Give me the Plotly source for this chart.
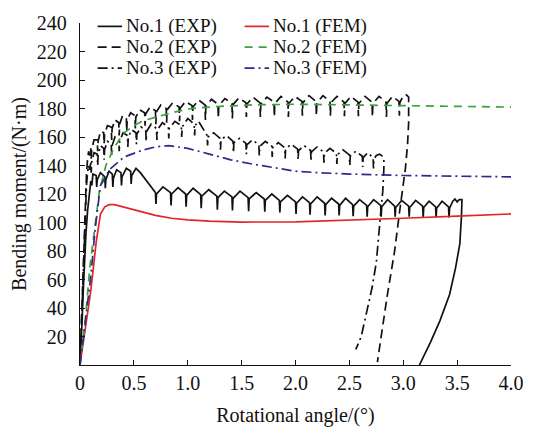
import plotly.graph_objects as go

# ---- Experimental curves (rotation in degrees, bending moment in N·m) ----
EXP1_X = [0, 0.01, 0.02, 0.03, 0.04, 0.055, 0.07, 0.085, 0.1, 0.11, 0.12,
          0.15, 0.155, 0.16, 0.19, 0.23, 0.235, 0.24, 0.27, 0.30, 0.305, 0.31, 0.34,
          0.38, 0.385, 0.39, 0.43, 0.47, 0.475, 0.48, 0.52, 0.56, 0.60, 0.65,
          0.70, 0.705, 0.71, 0.77, 0.84, 0.845, 0.85, 0.91, 0.98, 0.985, 0.99, 1.05,
          1.12, 1.125, 1.13, 1.195, 1.27, 1.275, 1.28, 1.34, 1.41, 1.415, 1.42, 1.485,
          1.56, 1.565, 1.57, 1.635, 1.71, 1.715, 1.72, 1.78, 1.85, 1.855, 1.86, 1.925,
          2.00, 2.005, 2.01, 2.065, 2.13, 2.135, 2.14, 2.20, 2.27, 2.275, 2.28, 2.335,
          2.40, 2.405, 2.41, 2.465, 2.53, 2.535, 2.54, 2.595, 2.66, 2.665, 2.67, 2.725,
          2.79, 2.795, 2.80, 2.855, 2.92, 2.925, 2.93, 2.985, 3.05, 3.055, 3.06, 3.115,
          3.18, 3.185, 3.19, 3.24, 3.30, 3.305, 3.31, 3.36, 3.42, 3.425, 3.43, 3.46,
          3.48, 3.50, 3.52, 3.545,
          3.54, 3.525, 3.485, 3.43, 3.34, 3.25, 3.15]
EXP1_Y = [0, 14, 32, 52, 70, 92, 108, 120, 129, 126, 134,
          133, 125, 130, 135, 132, 124, 130, 136, 134, 125, 131, 137,
          135, 126, 132, 138, 136, 127, 133, 138, 135, 131, 126,
          121, 113, 120, 125, 121, 112, 120, 124.5, 120, 111, 119, 124,
          119.5, 110, 118.5, 123, 118.5, 109, 117.5, 122, 118, 108.5, 117, 122,
          117.5, 108, 116.5, 121, 116.5, 107.5, 115.5, 120, 115.5, 107, 114.5, 119,
          114.5, 106, 113.5, 118, 114, 105.5, 113, 118, 113.5, 105, 112.5, 117,
          113, 105, 112, 117, 112.5, 104.5, 111.5, 116, 112, 104, 111, 116,
          112, 104, 111, 116, 111.5, 104, 110.5, 115.5, 111.5, 104, 110.5, 115.5,
          111.5, 103.5, 110.5, 115, 111, 103.5, 110, 115, 111, 103.5, 110, 115,
          116.5, 114.5, 116, 116,
          104, 85, 68, 49.5, 31, 15.6, 0]

EXP2_X = [0, 0.01, 0.02, 0.03, 0.04, 0.05, 0.06, 0.07, 0.08, 0.09,
          0.10, 0.104, 0.108, 0.13, 0.16, 0.164, 0.168, 0.19,
          0.22, 0.224, 0.228, 0.255, 0.29, 0.294, 0.298, 0.325,
          0.36, 0.364, 0.368, 0.395, 0.43, 0.434, 0.438, 0.47,
          0.51, 0.514, 0.518, 0.555, 0.60, 0.604, 0.608, 0.65,
          0.70, 0.704, 0.708, 0.75, 0.80, 0.804, 0.808, 0.86,
          0.92, 0.924, 0.928, 0.98, 1.04, 1.044, 1.048, 1.10,
          1.16, 1.164, 1.168, 1.22, 1.28, 1.284, 1.288, 1.345,
          1.41, 1.414, 1.418, 1.475, 1.54, 1.544, 1.548, 1.605,
          1.67, 1.674, 1.678, 1.735, 1.80, 1.804, 1.808, 1.865,
          1.93, 1.934, 1.938, 1.995, 2.06, 2.064, 2.068, 2.125,
          2.19, 2.194, 2.198, 2.255, 2.32, 2.324, 2.328, 2.385,
          2.45, 2.454, 2.458, 2.515, 2.58, 2.584, 2.588, 2.645,
          2.71, 2.714, 2.718, 2.775, 2.84, 2.844, 2.848, 2.90,
          2.96, 2.964, 2.968, 3.00, 3.03, 3.05,
          3.05, 3.04, 3.02, 2.97, 2.92, 2.85, 2.80, 2.76]
EXP2_Y = [0, 22, 48, 76, 100, 120, 134, 144, 150, 147,
          152, 144, 151, 158, 158, 150, 157, 164,
          163, 155, 162, 168, 167, 158, 166, 172,
          170, 161, 169, 175, 173, 164, 172, 177,
          175, 166, 174, 179, 177, 168, 176, 181,
          178.5, 169, 177.5, 182.5, 180, 170, 179, 184,
          181, 171, 180, 185, 182, 172, 181, 186,
          182.5, 172, 181.5, 186.5, 183, 173, 182, 187,
          183.5, 173, 182.5, 187.5, 184, 174, 183, 188,
          184, 174, 183, 188, 184.5, 174, 183.5, 188.5,
          184.5, 174, 183.5, 188.5, 185, 175, 184, 189,
          185, 175, 184, 189, 185, 175, 184, 188.5,
          184.5, 174.5, 183.5, 188.5, 184.5, 174.5, 183.5, 188.5,
          184.5, 174, 183.5, 188.5, 184.5, 174, 183.5, 188.5,
          185, 175, 184, 189, 189.5, 188,
          170, 155, 138, 110, 80, 48, 22, 2]

EXP3_X = [0, 0.01, 0.02, 0.03, 0.04, 0.05, 0.06, 0.07, 0.08, 0.09,
          0.10, 0.104, 0.108, 0.13, 0.16, 0.164, 0.168, 0.19,
          0.22, 0.224, 0.228, 0.255, 0.29, 0.294, 0.298, 0.325,
          0.36, 0.364, 0.368, 0.40, 0.44, 0.444, 0.448, 0.48,
          0.52, 0.524, 0.528, 0.565, 0.61, 0.614, 0.618, 0.66,
          0.71, 0.714, 0.718, 0.765, 0.82, 0.824, 0.828, 0.88,
          0.94, 0.944, 0.948, 1.00, 1.06, 1.064, 1.068, 1.10, 1.15,
          1.18, 1.184, 1.188, 1.24, 1.30, 1.304, 1.308, 1.36,
          1.42, 1.424, 1.428, 1.48, 1.54, 1.544, 1.548, 1.60,
          1.66, 1.664, 1.668, 1.72, 1.78, 1.784, 1.788, 1.84,
          1.90, 1.904, 1.908, 1.96, 2.02, 2.024, 2.028, 2.08,
          2.14, 2.144, 2.148, 2.20, 2.26, 2.264, 2.268, 2.32,
          2.38, 2.384, 2.388, 2.44, 2.50, 2.504, 2.508, 2.56,
          2.62, 2.624, 2.628, 2.67, 2.72, 2.724, 2.728, 2.75, 2.78, 2.80, 2.82,
          2.82, 2.81, 2.79, 2.77, 2.75, 2.71, 2.66, 2.61, 2.56]
EXP3_Y = [0, 20, 44, 68, 92, 112, 126, 135, 140, 137,
          143, 135, 142, 149, 148, 140, 147, 154,
          152, 144, 151, 157, 155, 147, 154, 160,
          158, 150, 157, 163, 161, 153, 160, 165,
          163, 155, 162, 167, 165, 157, 164, 169,
          166, 158, 165, 170, 167, 159, 166, 171,
          168, 160, 167, 173, 169, 161, 168, 171, 165,
          161, 154, 160, 163, 159, 151, 158, 161,
          157, 149, 156, 159, 155.5, 148, 154.5, 158,
          154.5, 147, 153.5, 157, 153.5, 146, 152.5, 156,
          152.5, 145, 151.5, 155, 151.5, 144, 150.5, 154,
          150.5, 143, 149.5, 153, 149.5, 142, 148.5, 152,
          148.5, 141, 147.5, 151, 147.5, 140, 146.5, 150,
          146.5, 139, 145.5, 149, 145.5, 138, 144.5, 147, 148, 147, 145,
          137.6, 122, 106, 90, 72, 54, 36, 20, 11]

# ---- Finite element results ----
FEM1_X = [0, 0.05, 0.1, 0.15, 0.19, 0.23, 0.27, 0.32, 0.4, 0.5, 0.6, 0.7,
          0.85, 1.0, 1.2, 1.5, 2.0, 2.5, 3.0, 3.5, 4.0]
FEM1_Y = [0, 26, 52, 86, 106, 111, 112.5, 112.5, 111, 109, 107, 105,
          103, 101.8, 101, 100.3, 100.5, 101.5, 103, 104.5, 106]

FEM2_X = [0, 0.05, 0.09, 0.14, 0.18, 0.24, 0.32, 0.41, 0.5, 0.59, 0.7, 0.85,
          1.03, 1.3, 1.6, 2.0, 2.5, 3.0, 3.5, 4.0]
FEM2_Y = [0, 32, 68, 99, 122, 140, 153, 163, 168, 171.5, 174, 177,
          180, 181.5, 182.5, 183, 182.5, 182, 181.5, 181]

FEM3_X = [0, 0.05, 0.1, 0.14, 0.19, 0.28, 0.41, 0.59, 0.7, 0.82, 1.0, 1.2,
          1.4, 1.6, 1.8, 2.0, 2.2, 2.5, 3.0, 3.5, 4.0]
FEM3_Y = [0, 30, 62, 95, 126, 137.6, 146, 151, 153, 154, 152, 148,
          144, 141, 138.5, 136, 135, 134, 133, 132.5, 132]

X_TICKS = [0, 0.5, 1.0, 1.5, 2.0, 2.5, 3.0, 3.5, 4.0]
X_TICK_TEXT = ["0", "0.5", "1.0", "1.5", "2.0", "2.5", "3.0", "3.5", "4.0"]
Y_TICKS = [20, 40, 60, 80, 100, 120, 140, 160, 180, 200, 220, 240]

FONT = "Liberation Serif, Times New Roman, serif"
BLACK = "#111111"
RED = "#e0262b"
GREEN = "#3aa33a"
NAVY = "#2b2b8c"
DASH = "9px,5px"
DASH_G = "8px,6px"
DASHDOT = "10px,4px,2px,4px"

# (name, x, y, colour, dash, legend column, legend row)
series = [
    ("No.1 (EXP)", EXP1_X, EXP1_Y, BLACK, "solid", 0, 0),
    ("No.2 (EXP)", EXP2_X, EXP2_Y, BLACK, DASH, 0, 1),
    ("No.3 (EXP)", EXP3_X, EXP3_Y, BLACK, DASHDOT, 0, 2),
    ("No.1 (FEM)", FEM1_X, FEM1_Y, RED, "solid", 1, 0),
    ("No.2 (FEM)", FEM2_X, FEM2_Y, GREEN, DASH_G, 1, 1),
    ("No.3 (FEM)", FEM3_X, FEM3_Y, NAVY, DASHDOT, 1, 2),
]

fig = go.Figure()
for name, xs, ys, col, dash, _, _ in series:
    fig.add_trace(go.Scatter(x=xs, y=ys, mode="lines", name=name,
                             line=dict(color=col, width=1.7, dash=dash),
                             showlegend=False))

# Legend drawn as line samples plus text labels, laid out in two columns
W_PLOT = 440.0
H_PLOT = 353.0
col_line = [(18, 43), (168, 193)]   # px from the left edge of the plot area
col_text = [46, 196]
row_y = [349.5, 328, 306.5]         # px above the bottom of the plot area
shapes = []
annotations = []
for name, xs, ys, col, dash, c, r in series:
    y = row_y[r] / H_PLOT
    shapes.append(dict(type="line", xref="paper", yref="paper",
                       x0=col_line[c][0] / W_PLOT, x1=col_line[c][1] / W_PLOT,
                       y0=y, y1=y, line=dict(color=col, width=1.7, dash=dash)))
    annotations.append(dict(text=name, xref="paper", yref="paper",
                            x=col_text[c] / W_PLOT, y=y, xanchor="left",
                            yanchor="middle", showarrow=False, borderpad=0,
                            font=dict(family=FONT, size=19, color=BLACK)))

fig.update_layout(
    width=536, height=434,
    margin=dict(l=80, r=16, t=19, b=62),
    paper_bgcolor="white", plot_bgcolor="white",
    font=dict(family=FONT, size=20, color=BLACK),
    shapes=shapes, annotations=annotations,
    xaxis=dict(range=[0, 4.0], tickvals=X_TICKS, ticktext=X_TICK_TEXT,
               ticks="inside", ticklen=5, tickwidth=1.3, tickcolor=BLACK,
               showline=True, linecolor=BLACK, linewidth=1.3,
               showgrid=False, zeroline=False,
               tickfont=dict(family=FONT, size=20),
               title=dict(text="Rotational angle/(°)", standoff=14,
                          font=dict(family=FONT, size=20))),
    yaxis=dict(range=[0, 240], tickvals=Y_TICKS,
               ticks="inside", ticklen=5, tickwidth=1.3, tickcolor=BLACK,
               showline=True, linecolor=BLACK, linewidth=1.3,
               showgrid=False, zeroline=False, ticklabelstandoff=8,
               tickfont=dict(family=FONT, size=20),
               title=dict(text="Bending moment/(N·m)", standoff=4,
                          font=dict(family=FONT, size=20))),
)

fig.write_html("out.html")
